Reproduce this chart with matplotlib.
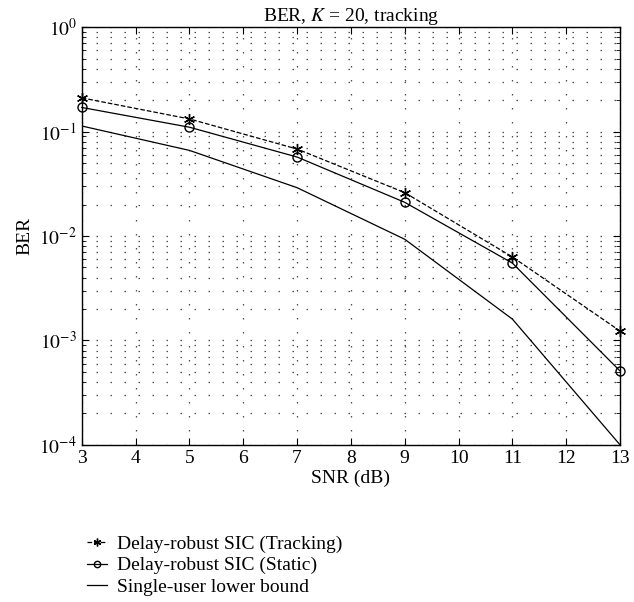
import numpy as np
import matplotlib
matplotlib.use("Agg")
import matplotlib.pyplot as plt

plt.rcParams['font.family'] = ['Liberation Serif', 'DejaVu Serif']
plt.rcParams['mathtext.fontset'] = 'stix'

# data
snr = [3, 5, 7, 9, 11, 13]
ber_tracking = [0.21, 0.132, 0.068, 0.026, 0.0063, 0.00123]
ber_static = [0.17, 0.11, 0.057, 0.021, 0.0055, 0.00051]
ber_bound = [0.113, 0.066, 0.029, 0.0093, 0.0016, 0.0001]
labels = ['Delay-robust SIC (Tracking)', 'Delay-robust SIC (Static)', 'Single-user lower bound']

fig = plt.figure(figsize=(6.34, 6.02), dpi=100)
ax = fig.add_axes([0.129, 0.261, 0.849, 0.694])

ax.semilogy(snr, ber_tracking, color='black', linestyle='--', linewidth=0.9,
            marker=(6, 2, 0), markersize=8, markeredgewidth=1.0, clip_on=False, label=labels[0])
ax.semilogy(snr, ber_static, color='black', linestyle='-', linewidth=0.9,
            marker='o', markersize=6.5, markerfacecolor='none', clip_on=False, label=labels[1])
ax.semilogy(snr, ber_bound, color='black', linestyle='-', linewidth=0.9, label=labels[2])

ax.set_xlim(3, 13)
ax.set_ylim(1e-4, 1)
ax.set_xticks(range(3, 14))
ax.set_yticks([1e-4, 1e-3, 1e-2, 1e-1, 1])
ax.set_yticklabels([r'$10^{-4}$', r'$10^{-3}$', r'$10^{-2}$', r'$10^{-1}$', r'$10^{0}$'])

# sparse grey dots like the matlab ':' grid
dots = (0, (1.2, 10))
ax.grid(True, which='major', axis='both', color='0.3', linestyle=dots, linewidth=0.9)
ax.grid(True, which='minor', axis='y', color='0.3', linestyle=dots, linewidth=0.9)
ax.tick_params(which='both', direction='in', top=True, right=True, labelsize=14)
ax.tick_params(which='major', length=5)
ax.tick_params(which='minor', length=3)
for sp in ax.spines.values():
    sp.set_linewidth(1.0)

ax.set_title(r'BER, $K$ = 20, tracking', fontsize=14, pad=3)
ax.set_xlabel('SNR (dB)', fontsize=14, labelpad=2)
ax.set_ylabel('BER', fontsize=14, labelpad=4)

fig.legend(loc='upper left', bbox_to_anchor=(0.138, 0.111), frameon=False,
           fontsize=14, handlelength=1.0, handletextpad=0.5, labelspacing=0.2,
           borderaxespad=0, borderpad=0, markerscale=0.7)

plt.savefig('out.png', dpi=100)
